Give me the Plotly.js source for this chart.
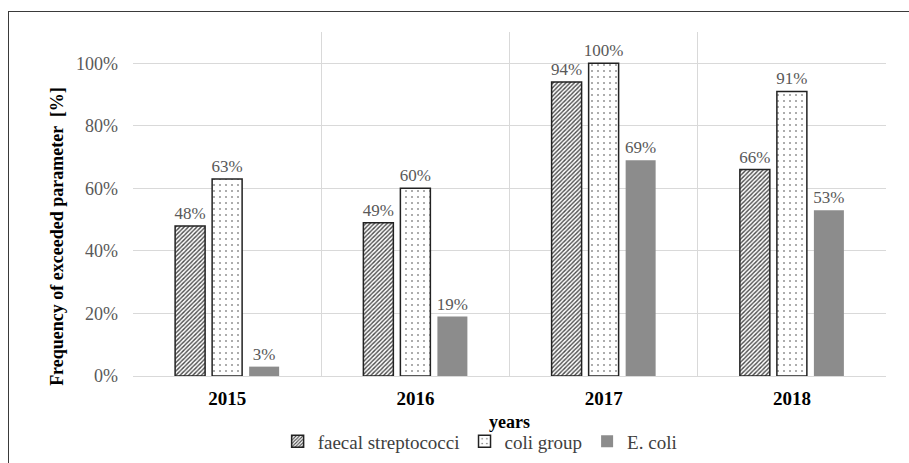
<!DOCTYPE html>
<html>
<head>
<meta charset="utf-8">
<script src="https://cdn.plot.ly/plotly-3.0.1.min.js"></script>
<style>
html,body{margin:0;padding:0;background:#fff;overflow:hidden;}
#wrap{position:relative;width:909px;height:463px;}
#chart{width:909px;height:463px;}
#frame{position:absolute;left:8px;top:11px;width:920px;height:480px;border-left:1.5px solid #3a3a3a;border-top:1.5px solid #3a3a3a;pointer-events:none;}
</style>
</head>
<body>
<div id="wrap"><div id="chart"></div><div id="frame"></div></div>
<script>
const years = ['2015', '2016', '2017', '2018'];
const faecalStreptococci = [0.48, 0.49, 0.94, 0.66];
const coliGroup = [0.63, 0.60, 1.00, 0.91];
const eColi = [0.03, 0.19, 0.69, 0.53];
const seriesNames = ['faecal streptococci', 'coli group', 'E. coli'];
const yTitle = 'Frequency of exceeded parameter  [%]';
const xTitle = 'years';

const serif = "'Liberation Serif', 'Times New Roman', serif";
const labelFont = {family: serif, size: 17, color: '#595959'};

const traces = [
  {
    type: 'bar', name: seriesNames[0], x: years, y: faecalStreptococci,
    marker: {color: '#ffffff', line: {color: '#222222', width: 1.5},
      pattern: {shape: '/', fgcolor: '#4a4a4a', bgcolor: '#ffffff', size: 3, solidity: 0.45}},
    texttemplate: '%{y:.0%}', textposition: 'outside', textfont: labelFont,
    cliponaxis: false, constraintext: 'none'
  },
  {
    type: 'bar', name: seriesNames[1], x: years, y: coliGroup,
    marker: {color: '#ffffff', line: {color: '#222222', width: 1.5},
      pattern: {shape: '.', fgcolor: '#444444', bgcolor: '#ffffff', size: 6, solidity: 0.06}},
    texttemplate: '%{y:.0%}', textposition: 'outside', textfont: labelFont,
    cliponaxis: false, constraintext: 'none'
  },
  {
    type: 'bar', name: seriesNames[2], x: years, y: eColi,
    marker: {color: '#8c8c8c', line: {color: '#8c8c8c', width: 0}},
    texttemplate: '%{y:.0%}', textposition: 'outside', textfont: labelFont,
    cliponaxis: false, constraintext: 'none'
  }
];

const layout = {
  width: 909, height: 463,
  margin: {l: 133, r: 23, t: 32, b: 87, autoexpand: false},
  paper_bgcolor: '#ffffff', plot_bgcolor: '#ffffff',
  barmode: 'group', bargap: 0.41, bargroupgap: 0.19,
  font: {family: serif, color: '#404040'},
  showlegend: true,
  legend: {orientation: 'h', x: 0.461, xanchor: 'center', y: -0.19, yanchor: 'middle',
    font: {family: serif, size: 19, color: '#404040'}, itemwidth: 30, traceorder: 'normal'},
  xaxis: {
    type: 'category', tickson: 'boundaries', showgrid: true, gridcolor: '#d9d9d9', gridwidth: 1,
    ticks: '', showline: false, zeroline: false, ticklabelstandoff: 9,
    tickfont: {family: serif, size: 19, color: '#000000', weight: 'bold'},
    title: {text: '<b>' + xTitle + '</b>', font: {family: serif, size: 18, color: '#000000'}, standoff: 7},
    automargin: false
  },
  yaxis: {
    range: [0, 1.1], dtick: 0.2, tick0: 0, tickformat: '.0%',
    showgrid: true, gridcolor: '#d9d9d9', gridwidth: 1,
    zeroline: true, zerolinecolor: '#d9d9d9', zerolinewidth: 1,
    showline: false, ticks: '', ticklabelstandoff: 14,
    tickfont: {family: serif, size: 18, color: '#595959'},
    automargin: false
  },
  annotations: [{
    text: '<b>' + yTitle + '</b>', textangle: -90, showarrow: false,
    xref: 'paper', yref: 'paper', x: -0.102, y: 0.405, xanchor: 'center', yanchor: 'middle',
    font: {family: serif, size: 18, color: '#000000'}
  }]
};

Plotly.newPlot('chart', traces, layout, {displayModeBar: false, staticPlot: true});
</script>
</body>
</html>
